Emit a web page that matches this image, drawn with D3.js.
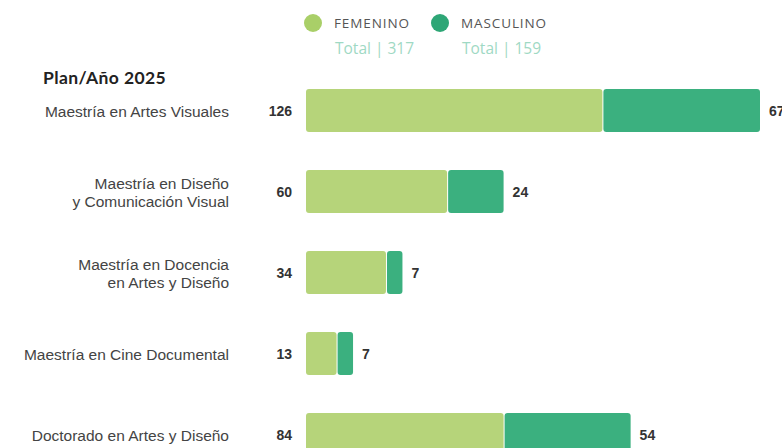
<!DOCTYPE html>
<html><head><meta charset="utf-8">
<script src="https://cdn.jsdelivr.net/npm/d3@7/dist/d3.min.js"></script>
<style>
html,body{margin:0;padding:0;background:#fff;}
svg{display:block;}
</style></head>
<body>
<svg id="c" width="782" height="448"></svg>
<script>
const categories = [
  ["Maestría en Artes Visuales"],
  ["Maestría en Diseño", "y Comunicación Visual"],
  ["Maestría en Docencia", "en Artes y Diseño"],
  ["Maestría en Cine Documental"],
  ["Doctorado en Artes y Diseño"]
];
const femenino = [126, 60, 34, 13, 84];
const masculino = [67, 24, 7, 7, 54];
const seriesNames = ["FEMENINO", "MASCULINO"];
const seriesTotals = ["Total | 317", "Total | 159"];
const title = "Plan/Año 2025";

const colF = "#b6d47a", colM = "#3bb07f";
const svg = d3.select("#c");

const keys = categories.map((c, i) => i);
const totals = keys.map(i => femenino[i] + masculino[i]);
const x = d3.scaleLinear().domain([0, d3.max(totals)]).range([306, 760]);
const y = d3.scalePoint().domain(keys).range([110.5, 434.5]);
const bh = 43;

// title
svg.append("text").attr("x", 43).attr("y", 84)
  .attr("font-family", "Lato, 'Open Sans', sans-serif").attr("font-weight", 700)
  .attr("font-size", 17.5).attr("letter-spacing", 0.4).attr("fill", "#222").text(title);

// legend
const lg = [{c: "#a9cf68", x: 313}, {c: "#2ea676", x: 440}];
lg.forEach((d, i) => {
  svg.append("circle").attr("cx", d.x).attr("cy", 23).attr("r", 9).attr("fill", d.c);
  svg.append("text").attr("x", d.x + 21).attr("y", 28)
    .attr("font-family", "'Open Sans', sans-serif").attr("font-size", 13.5)
    .attr("letter-spacing", 0.9).attr("fill", "#555").text(seriesNames[i]);
  svg.append("text").attr("x", d.x + 22).attr("y", 54)
    .attr("font-family", "'Open Sans', sans-serif").attr("font-size", 15.5)
    .attr("fill", "#9fd9c4").text(seriesTotals[i]);
});

// category labels
const g = svg.append("g");
keys.forEach(i => {
  const lines = categories[i];
  const cy = y(i);
  const lh = 18;
  const t = g.append("text").attr("text-anchor", "end")
    .attr("font-family", "'Liberation Sans', Arial, sans-serif").attr("font-size", 15.5)
    .attr("fill", "#444");
  lines.forEach((ln, j) => {
    t.append("tspan").attr("x", 229)
      .attr("y", cy + 6 + (j - (lines.length - 1) / 2) * lh).text(ln);
  });
});

// bars
keys.forEach(i => {
  const cy = y(i);
  svg.append("rect").attr("x", x(0)).attr("y", cy - bh / 2)
    .attr("width", x(femenino[i]) - x(0)).attr("height", bh)
    .attr("rx", 3).attr("fill", colF);
  svg.append("rect").attr("x", x(femenino[i]) + 1).attr("y", cy - bh / 2)
    .attr("width", x(femenino[i] + masculino[i]) - x(femenino[i]) - 1).attr("height", bh)
    .attr("rx", 3).attr("fill", colM);
  svg.append("text").attr("x", 292).attr("y", cy + 5).attr("text-anchor", "end")
    .attr("font-family", "'Liberation Sans', Arial, sans-serif").attr("font-weight", 700)
    .attr("font-size", 14).attr("fill", "#333").text(femenino[i]);
  svg.append("text").attr("x", x(femenino[i] + masculino[i]) + 9).attr("y", cy + 5)
    .attr("font-family", "'Liberation Sans', Arial, sans-serif").attr("font-weight", 700)
    .attr("font-size", 14).attr("fill", "#333").text(masculino[i]);
});
</script>
</body></html>
